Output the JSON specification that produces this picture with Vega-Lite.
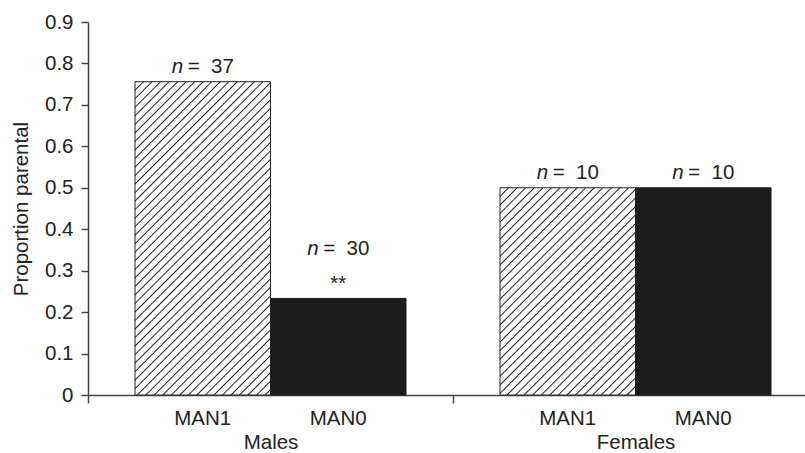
{
  "$schema": "https://vega.github.io/schema/vega-lite/v6.json",
  "width": 717,
  "height": 373,
  "autosize": {"type": "none"},
  "padding": {"left": 88, "top": 22, "right": 0, "bottom": 58},
  "background": "white",
  "config": {"view": {"stroke": null}, "font": "Liberation Sans"},
  "data": {"values": [
    {"group": "Males", "condition": "MAN1", "proportion": 0.756, "n": 37, "nlab": "= \u00a037", "sig": ""},
    {"group": "Males", "condition": "MAN0", "proportion": 0.233, "n": 30, "nlab": "= \u00a030", "sig": "**"},
    {"group": "Females", "condition": "MAN1", "proportion": 0.5, "n": 10, "nlab": "= \u00a010", "sig": ""},
    {"group": "Females", "condition": "MAN0", "proportion": 0.5, "n": 10, "nlab": "= \u00a010", "sig": ""}
  ]},
  "encoding": {
    "y": {
      "field": "proportion", "type": "quantitative",
      "scale": {"domain": [0, 0.9], "nice": false, "zero": true},
      "axis": {
        "title": "Proportion parental", "values": [0, 0.1, 0.2, 0.3, 0.4, 0.5, 0.6, 0.7, 0.8, 0.9],
        "format": "~g", "grid": false, "tickSize": 7, "labelPadding": 8, "labelFlush": false,
        "labelOverlap": false, "labelFontSize": 20.5, "titleFontSize": 20.5, "titleFontWeight": "normal",
        "titlePadding": 13, "domainColor": "#444", "tickColor": "#444", "labelColor": "#222",
        "titleColor": "#222", "domainWidth": 1.5, "tickWidth": 1.5
      }
    }
  },
  "layer": [
    {
      "transform": [{"filter": "datum.group == 'Males' && datum.condition == 'MAN1'"}],
      "mark": {
        "type": "bar", "stroke": "#222", "strokeWidth": 1,
        "fill": {"gradient": "linear", "x1": 0, "y1": 0, "x2": 0.5219, "y2": 1.2068, "stops": [
          {"offset": 0, "color": "#1a1a1a"}, {"offset": 0.003, "color": "#fff"}, {"offset": 0.016, "color": "#fff"},
          {"offset": 0.019, "color": "#1a1a1a"}, {"offset": 0.022, "color": "#fff"}, {"offset": 0.035, "color": "#fff"},
          {"offset": 0.038, "color": "#1a1a1a"}, {"offset": 0.041, "color": "#fff"}, {"offset": 0.054, "color": "#fff"},
          {"offset": 0.057, "color": "#1a1a1a"}, {"offset": 0.060, "color": "#fff"}, {"offset": 0.073, "color": "#fff"},
          {"offset": 0.076, "color": "#1a1a1a"}, {"offset": 0.079, "color": "#fff"}, {"offset": 0.092, "color": "#fff"},
          {"offset": 0.095, "color": "#1a1a1a"}, {"offset": 0.098, "color": "#fff"}, {"offset": 0.111, "color": "#fff"},
          {"offset": 0.114, "color": "#1a1a1a"}, {"offset": 0.117, "color": "#fff"}, {"offset": 0.130, "color": "#fff"},
          {"offset": 0.133, "color": "#1a1a1a"}, {"offset": 0.136, "color": "#fff"}, {"offset": 0.149, "color": "#fff"},
          {"offset": 0.152, "color": "#1a1a1a"}, {"offset": 0.155, "color": "#fff"}, {"offset": 0.168, "color": "#fff"},
          {"offset": 0.171, "color": "#1a1a1a"}, {"offset": 0.174, "color": "#fff"}, {"offset": 0.187, "color": "#fff"},
          {"offset": 0.190, "color": "#1a1a1a"}, {"offset": 0.193, "color": "#fff"}, {"offset": 0.206, "color": "#fff"},
          {"offset": 0.209, "color": "#1a1a1a"}, {"offset": 0.212, "color": "#fff"}, {"offset": 0.225, "color": "#fff"},
          {"offset": 0.228, "color": "#1a1a1a"}, {"offset": 0.231, "color": "#fff"}, {"offset": 0.244, "color": "#fff"},
          {"offset": 0.247, "color": "#1a1a1a"}, {"offset": 0.250, "color": "#fff"}, {"offset": 0.263, "color": "#fff"},
          {"offset": 0.266, "color": "#1a1a1a"}, {"offset": 0.269, "color": "#fff"}, {"offset": 0.282, "color": "#fff"},
          {"offset": 0.285, "color": "#1a1a1a"}, {"offset": 0.288, "color": "#fff"}, {"offset": 0.301, "color": "#fff"},
          {"offset": 0.304, "color": "#1a1a1a"}, {"offset": 0.307, "color": "#fff"}, {"offset": 0.320, "color": "#fff"},
          {"offset": 0.323, "color": "#1a1a1a"}, {"offset": 0.326, "color": "#fff"}, {"offset": 0.339, "color": "#fff"},
          {"offset": 0.342, "color": "#1a1a1a"}, {"offset": 0.345, "color": "#fff"}, {"offset": 0.358, "color": "#fff"},
          {"offset": 0.361, "color": "#1a1a1a"}, {"offset": 0.364, "color": "#fff"}, {"offset": 0.377, "color": "#fff"},
          {"offset": 0.380, "color": "#1a1a1a"}, {"offset": 0.383, "color": "#fff"}, {"offset": 0.396, "color": "#fff"},
          {"offset": 0.399, "color": "#1a1a1a"}, {"offset": 0.402, "color": "#fff"}, {"offset": 0.415, "color": "#fff"},
          {"offset": 0.418, "color": "#1a1a1a"}, {"offset": 0.421, "color": "#fff"}, {"offset": 0.434, "color": "#fff"},
          {"offset": 0.437, "color": "#1a1a1a"}, {"offset": 0.440, "color": "#fff"}, {"offset": 0.453, "color": "#fff"},
          {"offset": 0.456, "color": "#1a1a1a"}, {"offset": 0.459, "color": "#fff"}, {"offset": 0.472, "color": "#fff"},
          {"offset": 0.475, "color": "#1a1a1a"}, {"offset": 0.478, "color": "#fff"}, {"offset": 0.491, "color": "#fff"},
          {"offset": 0.494, "color": "#1a1a1a"}, {"offset": 0.497, "color": "#fff"}, {"offset": 0.510, "color": "#fff"},
          {"offset": 0.513, "color": "#1a1a1a"}, {"offset": 0.516, "color": "#fff"}, {"offset": 0.529, "color": "#fff"},
          {"offset": 0.532, "color": "#1a1a1a"}, {"offset": 0.535, "color": "#fff"}, {"offset": 0.548, "color": "#fff"},
          {"offset": 0.551, "color": "#1a1a1a"}, {"offset": 0.554, "color": "#fff"}, {"offset": 0.567, "color": "#fff"},
          {"offset": 0.570, "color": "#1a1a1a"}, {"offset": 0.573, "color": "#fff"}, {"offset": 0.586, "color": "#fff"},
          {"offset": 0.589, "color": "#1a1a1a"}, {"offset": 0.592, "color": "#fff"}, {"offset": 0.605, "color": "#fff"},
          {"offset": 0.608, "color": "#1a1a1a"}, {"offset": 0.611, "color": "#fff"}, {"offset": 0.624, "color": "#fff"},
          {"offset": 0.627, "color": "#1a1a1a"}, {"offset": 0.630, "color": "#fff"}, {"offset": 0.643, "color": "#fff"},
          {"offset": 0.646, "color": "#1a1a1a"}, {"offset": 0.649, "color": "#fff"}, {"offset": 0.662, "color": "#fff"},
          {"offset": 0.665, "color": "#1a1a1a"}, {"offset": 0.668, "color": "#fff"}, {"offset": 0.681, "color": "#fff"},
          {"offset": 0.684, "color": "#1a1a1a"}, {"offset": 0.687, "color": "#fff"}, {"offset": 0.700, "color": "#fff"},
          {"offset": 0.703, "color": "#1a1a1a"}, {"offset": 0.706, "color": "#fff"}, {"offset": 0.719, "color": "#fff"},
          {"offset": 0.722, "color": "#1a1a1a"}, {"offset": 0.725, "color": "#fff"}, {"offset": 0.738, "color": "#fff"},
          {"offset": 0.741, "color": "#1a1a1a"}, {"offset": 0.744, "color": "#fff"}, {"offset": 0.757, "color": "#fff"},
          {"offset": 0.760, "color": "#1a1a1a"}, {"offset": 0.763, "color": "#fff"}, {"offset": 0.776, "color": "#fff"},
          {"offset": 0.779, "color": "#1a1a1a"}, {"offset": 0.782, "color": "#fff"}, {"offset": 0.795, "color": "#fff"},
          {"offset": 0.798, "color": "#1a1a1a"}, {"offset": 0.801, "color": "#fff"}, {"offset": 0.814, "color": "#fff"},
          {"offset": 0.817, "color": "#1a1a1a"}, {"offset": 0.820, "color": "#fff"}, {"offset": 0.833, "color": "#fff"},
          {"offset": 0.836, "color": "#1a1a1a"}, {"offset": 0.839, "color": "#fff"}, {"offset": 0.852, "color": "#fff"},
          {"offset": 0.855, "color": "#1a1a1a"}, {"offset": 0.858, "color": "#fff"}, {"offset": 0.871, "color": "#fff"},
          {"offset": 0.874, "color": "#1a1a1a"}, {"offset": 0.877, "color": "#fff"}, {"offset": 0.890, "color": "#fff"},
          {"offset": 0.893, "color": "#1a1a1a"}, {"offset": 0.896, "color": "#fff"}, {"offset": 0.909, "color": "#fff"},
          {"offset": 0.912, "color": "#1a1a1a"}, {"offset": 0.915, "color": "#fff"}, {"offset": 0.928, "color": "#fff"},
          {"offset": 0.931, "color": "#1a1a1a"}, {"offset": 0.934, "color": "#fff"}, {"offset": 0.947, "color": "#fff"},
          {"offset": 0.950, "color": "#1a1a1a"}, {"offset": 0.953, "color": "#fff"}, {"offset": 0.966, "color": "#fff"},
          {"offset": 0.969, "color": "#1a1a1a"}, {"offset": 0.972, "color": "#fff"}, {"offset": 0.985, "color": "#fff"},
          {"offset": 0.988, "color": "#1a1a1a"}, {"offset": 0.991, "color": "#fff"}, {"offset": 1, "color": "#fff"}
        ]}
      },
      "encoding": {
        "x": {
          "field": "group", "type": "nominal",
          "scale": {"type": "band", "domain": ["Males", "Females"], "paddingInner": 0, "paddingOuter": 0, "range": [0, 730]},
          "axis": {
            "title": null, "tickBand": "extent", "tickSize": 8, "labelPadding": 29, "labelAngle": 0,
            "labelFontSize": 20.5, "labelColor": "#222", "domainColor": "#444", "tickColor": "#444",
            "domainWidth": 1.5, "tickWidth": 1.5, "grid": false
          }
        },
        "xOffset": {"field": "condition", "type": "nominal", "scale": {"domain": ["MAN1", "MAN0"], "paddingInner": 0, "paddingOuter": 0.347}}
      }
    },
    {
      "transform": [{"filter": "datum.group == 'Females' && datum.condition == 'MAN1'"}],
      "mark": {
        "type": "bar", "stroke": "#222", "strokeWidth": 1,
        "fill": {"gradient": "linear", "x1": 0, "y1": 0, "x2": 0.7576, "y2": 1.1585, "stops": [
          {"offset": 0, "color": "#1a1a1a"}, {"offset": 0.004, "color": "#fff"}, {"offset": 0.021, "color": "#fff"},
          {"offset": 0.025, "color": "#1a1a1a"}, {"offset": 0.029, "color": "#fff"}, {"offset": 0.046, "color": "#fff"},
          {"offset": 0.050, "color": "#1a1a1a"}, {"offset": 0.054, "color": "#fff"}, {"offset": 0.071, "color": "#fff"},
          {"offset": 0.075, "color": "#1a1a1a"}, {"offset": 0.079, "color": "#fff"}, {"offset": 0.096, "color": "#fff"},
          {"offset": 0.100, "color": "#1a1a1a"}, {"offset": 0.104, "color": "#fff"}, {"offset": 0.121, "color": "#fff"},
          {"offset": 0.125, "color": "#1a1a1a"}, {"offset": 0.129, "color": "#fff"}, {"offset": 0.146, "color": "#fff"},
          {"offset": 0.150, "color": "#1a1a1a"}, {"offset": 0.154, "color": "#fff"}, {"offset": 0.171, "color": "#fff"},
          {"offset": 0.175, "color": "#1a1a1a"}, {"offset": 0.179, "color": "#fff"}, {"offset": 0.196, "color": "#fff"},
          {"offset": 0.200, "color": "#1a1a1a"}, {"offset": 0.204, "color": "#fff"}, {"offset": 0.221, "color": "#fff"},
          {"offset": 0.225, "color": "#1a1a1a"}, {"offset": 0.229, "color": "#fff"}, {"offset": 0.246, "color": "#fff"},
          {"offset": 0.250, "color": "#1a1a1a"}, {"offset": 0.254, "color": "#fff"}, {"offset": 0.271, "color": "#fff"},
          {"offset": 0.275, "color": "#1a1a1a"}, {"offset": 0.279, "color": "#fff"}, {"offset": 0.296, "color": "#fff"},
          {"offset": 0.300, "color": "#1a1a1a"}, {"offset": 0.304, "color": "#fff"}, {"offset": 0.321, "color": "#fff"},
          {"offset": 0.325, "color": "#1a1a1a"}, {"offset": 0.329, "color": "#fff"}, {"offset": 0.346, "color": "#fff"},
          {"offset": 0.350, "color": "#1a1a1a"}, {"offset": 0.354, "color": "#fff"}, {"offset": 0.371, "color": "#fff"},
          {"offset": 0.375, "color": "#1a1a1a"}, {"offset": 0.379, "color": "#fff"}, {"offset": 0.396, "color": "#fff"},
          {"offset": 0.400, "color": "#1a1a1a"}, {"offset": 0.404, "color": "#fff"}, {"offset": 0.421, "color": "#fff"},
          {"offset": 0.425, "color": "#1a1a1a"}, {"offset": 0.429, "color": "#fff"}, {"offset": 0.446, "color": "#fff"},
          {"offset": 0.450, "color": "#1a1a1a"}, {"offset": 0.454, "color": "#fff"}, {"offset": 0.471, "color": "#fff"},
          {"offset": 0.475, "color": "#1a1a1a"}, {"offset": 0.479, "color": "#fff"}, {"offset": 0.496, "color": "#fff"},
          {"offset": 0.500, "color": "#1a1a1a"}, {"offset": 0.504, "color": "#fff"}, {"offset": 0.521, "color": "#fff"},
          {"offset": 0.525, "color": "#1a1a1a"}, {"offset": 0.529, "color": "#fff"}, {"offset": 0.546, "color": "#fff"},
          {"offset": 0.550, "color": "#1a1a1a"}, {"offset": 0.554, "color": "#fff"}, {"offset": 0.571, "color": "#fff"},
          {"offset": 0.575, "color": "#1a1a1a"}, {"offset": 0.579, "color": "#fff"}, {"offset": 0.596, "color": "#fff"},
          {"offset": 0.600, "color": "#1a1a1a"}, {"offset": 0.604, "color": "#fff"}, {"offset": 0.621, "color": "#fff"},
          {"offset": 0.625, "color": "#1a1a1a"}, {"offset": 0.629, "color": "#fff"}, {"offset": 0.646, "color": "#fff"},
          {"offset": 0.650, "color": "#1a1a1a"}, {"offset": 0.654, "color": "#fff"}, {"offset": 0.671, "color": "#fff"},
          {"offset": 0.675, "color": "#1a1a1a"}, {"offset": 0.679, "color": "#fff"}, {"offset": 0.696, "color": "#fff"},
          {"offset": 0.700, "color": "#1a1a1a"}, {"offset": 0.704, "color": "#fff"}, {"offset": 0.721, "color": "#fff"},
          {"offset": 0.725, "color": "#1a1a1a"}, {"offset": 0.729, "color": "#fff"}, {"offset": 0.746, "color": "#fff"},
          {"offset": 0.750, "color": "#1a1a1a"}, {"offset": 0.754, "color": "#fff"}, {"offset": 0.771, "color": "#fff"},
          {"offset": 0.775, "color": "#1a1a1a"}, {"offset": 0.779, "color": "#fff"}, {"offset": 0.796, "color": "#fff"},
          {"offset": 0.800, "color": "#1a1a1a"}, {"offset": 0.804, "color": "#fff"}, {"offset": 0.821, "color": "#fff"},
          {"offset": 0.825, "color": "#1a1a1a"}, {"offset": 0.829, "color": "#fff"}, {"offset": 0.846, "color": "#fff"},
          {"offset": 0.850, "color": "#1a1a1a"}, {"offset": 0.854, "color": "#fff"}, {"offset": 0.871, "color": "#fff"},
          {"offset": 0.875, "color": "#1a1a1a"}, {"offset": 0.879, "color": "#fff"}, {"offset": 0.896, "color": "#fff"},
          {"offset": 0.900, "color": "#1a1a1a"}, {"offset": 0.904, "color": "#fff"}, {"offset": 0.921, "color": "#fff"},
          {"offset": 0.925, "color": "#1a1a1a"}, {"offset": 0.929, "color": "#fff"}, {"offset": 0.946, "color": "#fff"},
          {"offset": 0.950, "color": "#1a1a1a"}, {"offset": 0.954, "color": "#fff"}, {"offset": 0.971, "color": "#fff"},
          {"offset": 0.975, "color": "#1a1a1a"}, {"offset": 0.979, "color": "#fff"}, {"offset": 0.996, "color": "#fff"},
          {"offset": 1, "color": "#1a1a1a"}
        ]}
      },
      "encoding": {
        "x": {"field": "group", "type": "nominal"},
        "xOffset": {"field": "condition", "type": "nominal"}
      }
    },
    {
      "transform": [{"filter": "datum.condition == 'MAN0'"}],
      "mark": {"type": "bar", "fill": "#1c1c1c", "stroke": "#1c1c1c", "strokeWidth": 1},
      "encoding": {
        "x": {"field": "group", "type": "nominal"},
        "xOffset": {"field": "condition", "type": "nominal"}
      }
    },
    {
      "transform": [{"filter": "datum.sig == ''"}],
      "mark": {"type": "text", "text": "n", "fontStyle": "italic", "fontSize": 20.5, "color": "#222", "align": "left", "baseline": "alphabetic", "dx": -31, "dy": -9},
      "encoding": {
        "x": {"field": "group", "type": "nominal"},
        "xOffset": {"field": "condition", "type": "nominal"}
      }
    },
    {
      "transform": [{"filter": "datum.sig == ''"}],
      "mark": {"type": "text", "fontSize": 20.5, "color": "#222", "align": "left", "baseline": "alphabetic", "dx": -15, "dy": -9},
      "encoding": {
        "x": {"field": "group", "type": "nominal"},
        "xOffset": {"field": "condition", "type": "nominal"},
        "text": {"field": "nlab"}
      }
    },
    {
      "transform": [{"filter": "datum.sig != ''"}],
      "mark": {"type": "text", "text": "n", "fontStyle": "italic", "fontSize": 20.5, "color": "#222", "align": "left", "baseline": "alphabetic", "dx": -31, "dy": -43},
      "encoding": {
        "x": {"field": "group", "type": "nominal"},
        "xOffset": {"field": "condition", "type": "nominal"}
      }
    },
    {
      "transform": [{"filter": "datum.sig != ''"}],
      "mark": {"type": "text", "fontSize": 20.5, "color": "#222", "align": "left", "baseline": "alphabetic", "dx": -15, "dy": -43},
      "encoding": {
        "x": {"field": "group", "type": "nominal"},
        "xOffset": {"field": "condition", "type": "nominal"},
        "text": {"field": "nlab"}
      }
    },
    {
      "transform": [{"filter": "datum.sig != ''"}],
      "mark": {"type": "text", "fontSize": 20.5, "color": "#222", "align": "center", "baseline": "alphabetic", "dy": -8},
      "encoding": {
        "x": {"field": "group", "type": "nominal"},
        "xOffset": {"field": "condition", "type": "nominal"},
        "text": {"field": "sig"}
      }
    },
    {
      "mark": {"type": "text", "fontSize": 20.5, "color": "#222", "align": "center", "baseline": "alphabetic", "dy": 30},
      "encoding": {
        "x": {"field": "group", "type": "nominal"},
        "xOffset": {"field": "condition", "type": "nominal"},
        "y": {"datum": 0},
        "text": {"field": "condition"}
      }
    },
    {
      "data": {"values": [{"edge": "top"}]},
      "mark": {"type": "rule", "color": "#444", "strokeWidth": 1.5},
      "encoding": {"y": {"datum": 0.9}}
    }
  ]
}
